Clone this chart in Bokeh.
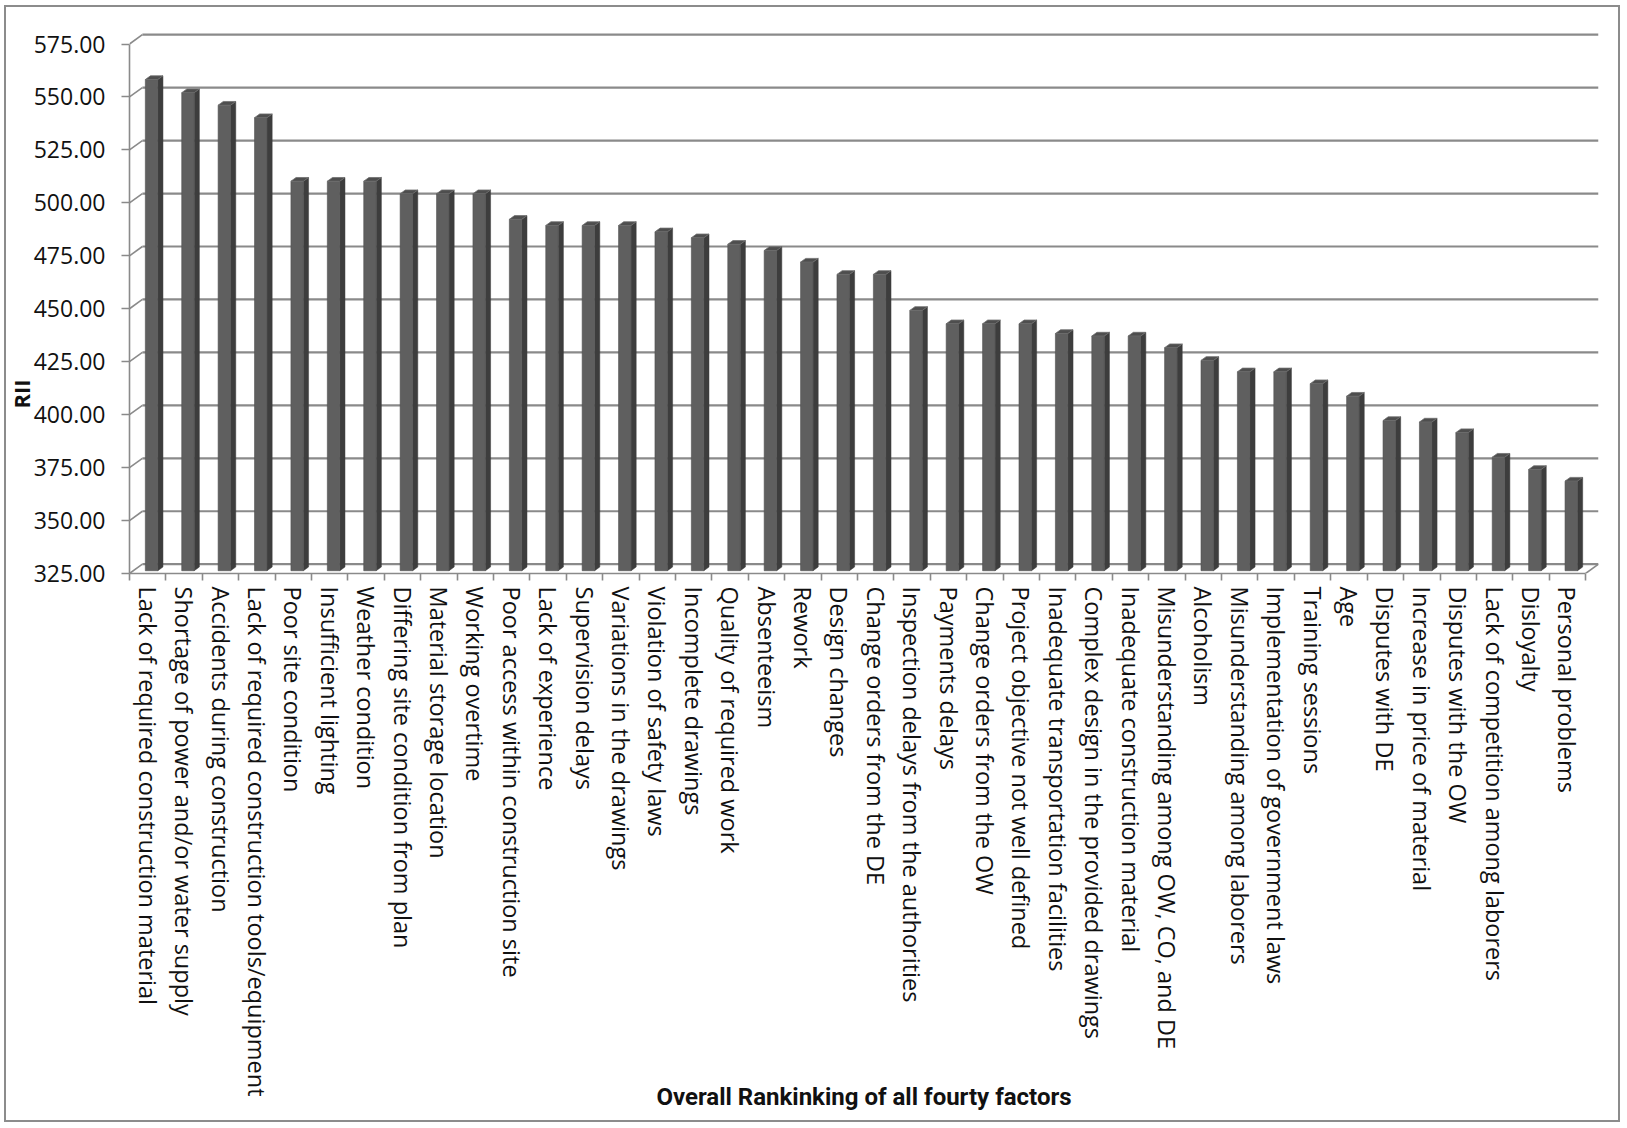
import math
from bokeh.plotting import figure
from bokeh.models import (Range1d, FixedTicker, NumeralTickFormatter, Title)
from bokeh.embed import file_html
from bokeh.resources import INLINE

# ---------------- data ----------------
factors = [
    "Lack of required construction material",
    "Shortage of power and/or water supply",
    "Accidents during construction",
    "Lack of required construction tools/equipment",
    "Poor site condition",
    "Insufficient lighting",
    "Weather condition",
    "Differing site condition from plan",
    "Material storage location",
    "Working overtime",
    "Poor access within construction site",
    "Lack of experience",
    "Supervision delays",
    "Variations in the drawings",
    "Violation of safety laws",
    "Incomplete drawings",
    "Quality of required work",
    "Absenteeism",
    "Rework",
    "Design changes",
    "Change orders from the DE",
    "Inspection delays from the authorities",
    "Payments delays",
    "Change orders from the OW",
    "Project objective not well defined",
    "Inadequate transportation facilities",
    "Complex design in the provided drawings",
    "Inadequate construction material",
    "Misunderstanding  among OW, CO, and DE",
    "Alcoholism",
    "Misunderstanding  among laborers",
    "Implementation of government laws",
    "Training sessions",
    "Age",
    "Disputes with DE",
    "Increase in price of material",
    "Disputes with the OW",
    "Lack of competition among laborers",
    "Disloyalty",
    "Personal problems",
]
rii = [556.9, 550.7, 544.8, 538.9, 508.9, 508.9, 508.9, 503.0, 503.0, 503.0,
       490.9, 488.0, 488.0, 488.0, 485.0, 482.2, 479.1, 476.2, 470.7, 464.9,
       464.9, 447.9, 441.6, 441.6, 441.6, 437.0, 435.8, 435.8, 430.3, 424.3,
       418.9, 418.9, 413.3, 407.4, 395.9, 395.2, 390.2, 378.6, 372.8, 367.3]
y_ticks = [325, 350, 375, 400, 425, 450, 475, 500, 525, 550, 575]
x_title = "Overall Rankinking of all fourty factors"
y_title = "RII"

# ---------------- geometry (3-D look) ----------------
Y_MIN, Y_MAX = 325, 575
DX, DY = 0.354, 4.39          # depth of the floor / back wall in data units
F1, F2 = 0.30, 0.70           # depth fraction of bar front / back faces
HALF_W = 0.1715               # half width of bar front face
n = len(factors)

W, H = 1627, 1128
p = figure(width=W, height=H,
           x_range=Range1d(-0.5, n - 0.5 + DX),
           y_range=Range1d(Y_MIN, Y_MIN + 543 / 2.118),
           output_backend="svg", toolbar_location=None,
           min_border_left=129, min_border_right=29,
           min_border_top=30, min_border_bottom=555)
p.outline_line_color = None
p.grid.visible = False
p.background_fill_color = "white"
p.border_fill_color = "white"

grid_col = "#8a8a8a"
# back wall gridlines + connectors from the front axis
p.segment(x0=[-0.5 + DX] * len(y_ticks), x1=[n - 0.5 + DX] * len(y_ticks),
          y0=[t + DY for t in y_ticks], y1=[t + DY for t in y_ticks],
          line_color=grid_col, line_width=2.2)
p.segment(x0=[-0.5] * len(y_ticks), x1=[-0.5 + DX] * len(y_ticks),
          y0=y_ticks, y1=[t + DY for t in y_ticks],
          line_color=grid_col, line_width=1.6)
# right floor edge
p.segment(x0=[n - 0.5], x1=[n - 0.5 + DX], y0=[Y_MIN], y1=[Y_MIN + DY],
          line_color=grid_col, line_width=1.6)

# bars
xs = list(range(n))
fx, fy = F1 * DX, F1 * DY
dx, dy = (F2 - F1) * DX, (F2 - F1) * DY
xl = [x + fx - HALF_W for x in xs]
xr = [x + fx + HALF_W for x in xs]
yb = [Y_MIN + fy] * n
yt = [v + fy for v in rii]

side_xs = [[r, r + dx, r + dx, r] for r in xr]
side_ys = [[b, b + dy, t + dy, t] for b, t in zip(yb, yt)]
top_xs = [[l, r, r + dx, l + dx] for l, r in zip(xl, xr)]
top_ys = [[t, t, t + dy, t + dy] for t in yt]

p.patches(side_xs, side_ys, fill_color="#3d3d3d", line_color="#3d3d3d", line_width=0.5)
p.quad(left=xl, right=xr, bottom=yb, top=yt,
       fill_color="#5f5f5f", line_color="#505050", line_width=0.6)
p.patches(top_xs, top_ys, fill_color="#4e4e4e", line_color="#6e6e6e", line_width=0.8)

# ---------------- axes ----------------
yax = p.yaxis[0]
yax.ticker = FixedTicker(ticks=y_ticks)
yax.formatter = NumeralTickFormatter(format="0.00")
yax.bounds = (Y_MIN, Y_MAX)
yax.axis_line_color = grid_col
yax.axis_line_width = 1.6
yax.major_tick_line_color = grid_col
yax.major_tick_line_width = 1.6
yax.major_tick_out = 8
yax.major_tick_in = 0
yax.minor_tick_line_color = None
yax.major_label_standoff = 16
yax.major_label_text_font = "Open Sans"
yax.major_label_text_font_size = "23px"
yax.major_label_text_color = "#111111"

xax = p.xaxis[0]
xax.ticker = FixedTicker(ticks=xs, minor_ticks=[x - 0.5 for x in range(n + 1)])
xax.major_label_overrides = {i: f for i, f in enumerate(factors)}
xax.major_label_orientation = -math.pi / 2
xax.bounds = (-0.5, n - 0.5)
xax.axis_line_color = grid_col
xax.axis_line_width = 1.6
xax.major_tick_line_color = None
xax.major_tick_out = 0
xax.major_tick_in = 0
xax.minor_tick_line_color = grid_col
xax.minor_tick_line_width = 1.6
xax.minor_tick_out = 7
xax.minor_tick_in = 0
xax.major_label_standoff = 6
xax.major_label_text_font = "Open Sans"
xax.major_label_text_font_size = "23.5px"
xax.major_label_text_color = "#111111"
xax.axis_label = x_title
xax.axis_label_text_font = "Roboto"
xax.axis_label_text_font_style = "bold"
xax.axis_label_text_font_size = "24px"
xax.axis_label_text_color = "#111111"
xax.axis_label_standoff = -17

p.add_layout(Title(text=y_title, align="left", offset=165,
                   text_font="Open Sans", text_font_style="bold",
                   text_font_size="22px", text_color="#111111",
                   standoff=-10), "left")

html = file_html(p, INLINE)
frame_css = ("<style>body::after{content:'';position:fixed;left:4px;top:5px;"
             "width:1616px;height:1117px;border:2.5px solid #8c8c8c;"
             "box-sizing:border-box;pointer-events:none;}</style>")
html = html.replace("</head>", frame_css + "</head>", 1)
open("out.html", "w").write(html)
